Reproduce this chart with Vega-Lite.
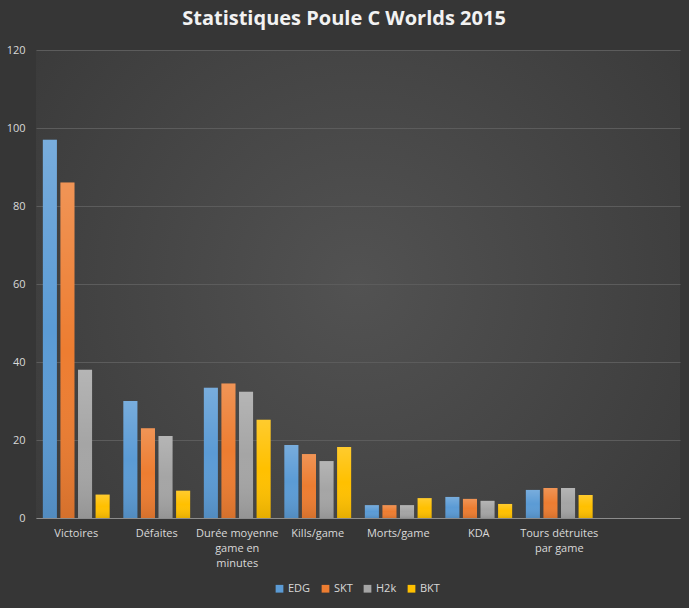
{
  "$schema": "https://vega.github.io/schema/vega-lite/v6.json",
  "autosize": {"type": "none"},
  "width": 644,
  "height": 468,
  "padding": {"left": 36, "top": 50, "right": 9, "bottom": 90},
  "background": "#363636",
  "title": {
    "text": "Statistiques Poule C Worlds 2015",
    "font": "Open Sans",
    "fontSize": 20,
    "fontWeight": "bold",
    "color": "#f2f2f2",
    "anchor": "middle",
    "dx": -14,
    "offset": 15
  },
  "data": {
    "values": [
      {"cat": "Victoires", "team": "EDG", "v": 97},
      {"cat": "Victoires", "team": "SKT", "v": 86},
      {"cat": "Victoires", "team": "H2k", "v": 38},
      {"cat": "Victoires", "team": "BKT", "v": 6},
      {"cat": "Défaites", "team": "EDG", "v": 30},
      {"cat": "Défaites", "team": "SKT", "v": 23},
      {"cat": "Défaites", "team": "H2k", "v": 21},
      {"cat": "Défaites", "team": "BKT", "v": 7},
      {"cat": "Durée moyenne game en minutes", "team": "EDG", "v": 33.4},
      {"cat": "Durée moyenne game en minutes", "team": "SKT", "v": 34.5},
      {"cat": "Durée moyenne game en minutes", "team": "H2k", "v": 32.4},
      {"cat": "Durée moyenne game en minutes", "team": "BKT", "v": 25.2},
      {"cat": "Kills/game", "team": "EDG", "v": 18.7},
      {"cat": "Kills/game", "team": "SKT", "v": 16.4},
      {"cat": "Kills/game", "team": "H2k", "v": 14.6},
      {"cat": "Kills/game", "team": "BKT", "v": 18.2},
      {"cat": "Morts/game", "team": "EDG", "v": 3.3},
      {"cat": "Morts/game", "team": "SKT", "v": 3.3},
      {"cat": "Morts/game", "team": "H2k", "v": 3.3},
      {"cat": "Morts/game", "team": "BKT", "v": 5.1},
      {"cat": "KDA", "team": "EDG", "v": 5.4},
      {"cat": "KDA", "team": "SKT", "v": 4.9},
      {"cat": "KDA", "team": "H2k", "v": 4.4},
      {"cat": "KDA", "team": "BKT", "v": 3.6},
      {"cat": "Tours détruites par game", "team": "EDG", "v": 7.2},
      {"cat": "Tours détruites par game", "team": "SKT", "v": 7.7},
      {"cat": "Tours détruites par game", "team": "H2k", "v": 7.7},
      {"cat": "Tours détruites par game", "team": "BKT", "v": 5.9}
    ]
  },
  "encoding": {
    "x": {
      "field": "cat",
      "type": "nominal",
      "sort": null,
      "scale": {
        "domain": ["Victoires", "Défaites", "Durée moyenne game en minutes", "Kills/game", "Morts/game", "KDA", "Tours détruites par game", " "],
        "paddingInner": 0.17,
        "paddingOuter": 0.085
      },
      "axis": {
        "title": null,
        "labelAngle": 0,
        "labelColor": "#d9d9d9",
        "labelFont": "Open Sans",
        "labelFontSize": 11,
        "labelLineHeight": 15,
        "labelPadding": 9,
        "labelBaseline": "top",
        "ticks": false,
        "domainColor": "#8c8c8c",
        "domainWidth": 1,
        "labelLimit": 200,
        "labelExpr": "datum.value == 'Durée moyenne game en minutes' ? ['Durée moyenne', 'game en', 'minutes'] : datum.value == 'Tours détruites par game' ? ['Tours détruites', 'par game'] : datum.value"
      }
    },
    "xOffset": {
      "field": "team",
      "type": "nominal",
      "sort": ["EDG", "SKT", "H2k", "BKT"],
      "scale": {"paddingInner": 0.2}
    },
    "y": {
      "field": "v",
      "type": "quantitative",
      "scale": {"domain": [0, 120]},
      "axis": {
        "title": null,
        "values": [0, 20, 40, 60, 80, 100, 120],
        "labelColor": "#d9d9d9",
        "labelFont": "Open Sans",
        "labelFontSize": 11,
        "labelPadding": 11,
        "ticks": false,
        "domain": false,
        "gridColor": "#5c5c5c",
        "gridWidth": 1
      }
    }
  },
  "layer": [
    {
      "mark": {"type": "bar"},
      "encoding": {
        "color": {
          "field": "team",
          "type": "nominal",
          "sort": ["EDG", "SKT", "H2k", "BKT"],
          "scale": {
            "domain": ["EDG", "SKT", "H2k", "BKT"],
            "range": ["#5B9BD5", "#ED7D31", "#A5A5A5", "#FFC000"]
          },
          "legend": {
            "title": null,
            "orient": "none",
            "legendX": 238,
            "legendY": 533,
            "direction": "horizontal",
            "symbolType": "square",
            "symbolSize": 60,
            "symbolStrokeWidth": 0,
            "labelColor": "#d9d9d9",
            "labelFont": "Open Sans",
            "labelFontSize": 11,
            "labelOffset": 3,
            "columnPadding": 9
          }
        }
      }
    },
    {
      "mark": {
        "type": "bar",
        "fill": {
          "gradient": "linear",
          "x1": 0, "y1": 0, "x2": 0, "y2": 1,
          "stops": [
            {"offset": 0, "color": "rgba(255,255,255,0.18)"},
            {"offset": 0.5, "color": "rgba(255,255,255,0.0)"},
            {"offset": 1, "color": "rgba(0,0,0,0.10)"}
          ]
        }
      }
    }
  ],
  "config": {
    "view": {
      "stroke": null,
      "fill": {
        "gradient": "radial",
        "x1": 0.5, "y1": 0.5, "r1": 0,
        "x2": 0.5, "y2": 0.5, "r2": 0.75,
        "stops": [
          {"offset": 0, "color": "#525252"},
          {"offset": 1, "color": "#363636"}
        ]
      }
    }
  }
}
